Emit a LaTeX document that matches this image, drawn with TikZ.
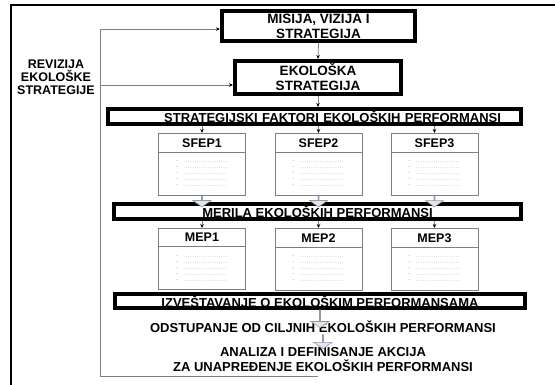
\documentclass[tikz,border=0pt]{standalone}
\usepackage{fontspec}
\setmainfont{Liberation Sans}
\usepackage{tikz}
\usetikzlibrary{positioning, arrows.meta, shapes.multipart, shapes.arrows}
\definecolor{lineg}{HTML}{7F7F7F}
\definecolor{arrfill}{HTML}{DCE6F2}
\tikzstyle{hbox}=[draw, line width=4pt, inner sep=0pt, align=center, font=\fontsize{13.5}{15}\selectfont\bfseries]
\tikzstyle{banner}=[draw, line width=4pt, inner xsep=0pt, inner ysep=0pt, text height=13pt, text depth=0pt, font=\fontsize{13}{15}\selectfont\bfseries]
\tikzstyle{fbox}=[draw=lineg, line width=0.9pt, rectangle split, rectangle split parts=2, text width=80pt, inner xsep=3.5pt, inner ysep=4.5pt, align=center, anchor=north, font=\fontsize{12.5}{14}\selectfont\bfseries]
\tikzstyle{txt}=[inner sep=1.5pt, align=center, font=\fontsize{13}{14.5}\selectfont\bfseries]
\tikzstyle{conn}=[draw=lineg, line width=0.8pt, -{Stealth[length=4pt, width=3.5pt, color=black]}]
\tikzstyle{barr}=[single arrow, draw=lineg!80, fill=arrfill, line width=0.6pt, minimum width=18pt, single arrow head extend=5.5pt, single arrow tip angle=110, inner sep=0pt, shape border rotate=270, anchor=tail]
\tikzset{>=stealth}
\newcommand{\dotrow}{\makebox[52pt][l]{-\hspace{5pt}\dotfill}}
\newcommand{\dotlist}{\parbox[c][33pt][c]{52pt}{\color{gray}\fontsize{5}{6}\selectfont\mdseries\dotrow\\\dotrow\\\dotrow\\\dotrow\\\dotrow}}

\begin{document}
\begin{tikzpicture}[x=1pt, y=-1pt]
\useasboundingbox (0,0) rectangle (555,385);
% the frame
\draw[line width=1.6pt] (11,385) -- (11,5) -- (555,5);
% the two boxes on top
\node[hbox, minimum width=193pt, minimum height=30pt] (mis) at (318.5,26) {MISIJA, VIZIJA I\\STRATEGIJA};
\node[hbox, minimum width=166pt, minimum height=33pt] (eko) at (318,77.5) {EKOLOŠKA\\STRATEGIJA};
\node[txt, font=\fontsize{12.5}{13}\selectfont\bfseries] (rev) at (56,77) {REVIZIJA\\EKOLOŠKE\\STRATEGIJE};
% the banners
\node[banner, minimum height=15pt, text width=373pt, inner xsep=20pt, align=right] (sfk) at (314.5,116.5) {STRATEGIJSKI FAKTORI EKOLOŠKIH PERFORMANSI};
\node[banner, minimum width=407pt, minimum height=15pt] (mer) at (317.5,211.5) {MERILA EKOLOŠKIH PERFORMANSI};
\node[banner, minimum width=410pt, minimum height=12pt] (izv) at (320,301) {IZVEŠTAVANJE O EKOLOŠKIM PERFORMANSAMA};
% the factor boxes
\node[fbox] (s1) at (202,133) {SFEP1\nodepart{two}\dotlist};
\node[fbox] (s2) at (318.5,133) {SFEP2\nodepart{two}\dotlist};
\node[fbox] (s3) at (434.5,133) {SFEP3\nodepart{two}\dotlist};
% the measure boxes
\node[fbox] (m1) at (202,228) {MEP1\nodepart{two}\dotlist};
\node[fbox] (m2) at (318.5,228) {MEP2\nodepart{two}\dotlist};
\node[fbox] (m3) at (434.5,228) {MEP3\nodepart{two}\dotlist};
% the texts at the bottom
\node[txt, text height=9.5pt, text depth=0pt] (ods) at (323,328) {ODSTUPANJE OD CILJNIH EKOLOŠKIH PERFORMANSI};
\node[txt, inner sep=0pt, anchor=north] (ana) at (323,347.5) {ANALIZA I DEFINISANJE AKCIJA\\ZA UNAPREĐENJE EKOLOŠKIH PERFORMANSI};
% the thin arrows
\draw[conn] (mis.south) -- (eko.north);
\draw[conn] (eko.south) -- (eko.south |- sfk.north);
\foreach \b in {s1, s2, s3}
  \draw[conn] (\b.north |- sfk.south) -- (\b.north);
\foreach \b in {m1, m2, m3}
  \draw[conn] (\b.north |- mer.south) -- (\b.north);
% the block arrows
\foreach \b in {s1, s2, s3}
  \node[barr, minimum height=11pt] (a\b) at (\b.south) {};
\node[barr, minimum height=18pt] (aizv) at (izv.south) {};
\node[barr, minimum height=14pt] (aods) at (ods.south) {};
% the revision loop
\coordinate (fb) at (318,376);
\coordinate (fbl) at (100,376);
\draw[conn] (fb) -- (fbl) |- (mis.west |- 0,29);
\draw[conn] (fbl |- 0,85) -- (eko.west |- 0,85);
\end{tikzpicture}
\end{document}
